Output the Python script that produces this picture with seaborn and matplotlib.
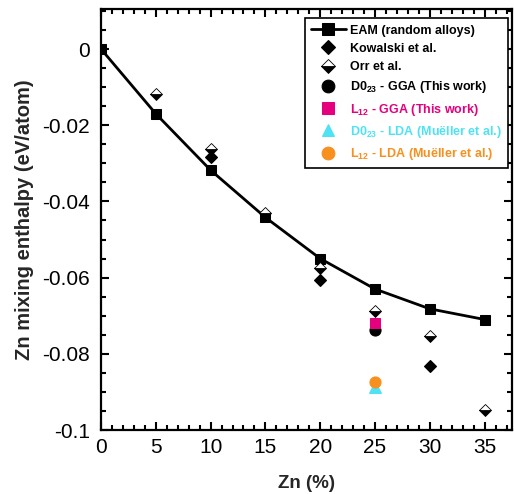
import matplotlib
matplotlib.use("Agg")
import matplotlib.pyplot as plt
import seaborn as sns
import pandas as pd
from matplotlib.ticker import MultipleLocator, FixedLocator, FixedFormatter

# ---- data ----
eam_x = [0, 5, 10, 15, 20, 25, 30, 35]
eam_y = [0.0, -0.0170, -0.0318, -0.0442, -0.0550, -0.0630, -0.0682, -0.0710]

kow_x = [10, 20, 30]
kow_y = [-0.0283, -0.0605, -0.0833]

orr_x = [5, 10, 15, 20, 25, 30, 35]
orr_y = [-0.0118, -0.0263, -0.0430, -0.0576, -0.0687, -0.0752, -0.0948]

d023_gga_x = [25]
d023_gga_y = [-0.0738]
l12_gga_x = [25]
l12_gga_y = [-0.0718]
d023_lda_x = [25]
d023_lda_y = [-0.0886]
l12_lda_x = [25]
l12_lda_y = [-0.0875]

labels = ["EAM (random alloys)", "Kowalski et al.", "Orr et al.",
          "D0$_{23}$ - GGA (This work)", "L$_{12}$ - GGA (This work)",
          "D0$_{23}$ - LDA (Mu\u00ebller et al.)", "L$_{12}$ - LDA (Mu\u00ebller et al.)"]
label_colors = ["black", "black", "black", "black", "#e5007d", "#4fe2f5", "#f7901e"]

yticks = [0, -0.02, -0.04, -0.06, -0.08, -0.1]
ytick_labels = ["0", "-0.02", "-0.04", "-0.06", "-0.08", "-0.1"]
xticks = [0, 5, 10, 15, 20, 25, 30, 35]

# ---- style ----
sns.set_style("ticks")
plt.rcParams["font.family"] = ["Liberation Sans", "DejaVu Sans"]
plt.rcParams["mathtext.fontset"] = "custom"
plt.rcParams["mathtext.rm"] = "Liberation Sans:bold"
plt.rcParams["mathtext.it"] = "Liberation Sans:bold"
plt.rcParams["mathtext.bf"] = "Liberation Sans:bold"
plt.rcParams["axes.unicode_minus"] = False

fig = plt.figure(figsize=(5.14, 4.94), dpi=100)
ax = fig.add_axes([101 / 514, 1 - 430 / 494, 411 / 514, 421 / 494])

def pts(x, y, **kw):
    df = pd.DataFrame({"x": x, "y": y})
    sns.lineplot(data=df, x="x", y="y", ax=ax, legend=False, **kw)
    return ax.lines[-1]

h_eam = pts(eam_x, eam_y, color="black", linewidth=2.0, marker="s", markersize=7.5,
            markeredgecolor="black", markerfacecolor="black", zorder=5)
h_kow = pts(kow_x, kow_y, color="black", linestyle="", marker="D", markersize=6.2,
            markeredgecolor="black", markerfacecolor="black", markeredgewidth=0.8, zorder=3)
h_d023g = pts(d023_gga_x, d023_gga_y, color="black", linestyle="", marker="o", markersize=8,
              markeredgecolor="black", markerfacecolor="black", zorder=3)
h_l12g = pts(l12_gga_x, l12_gga_y, color="#e5007d", linestyle="", marker="s", markersize=7,
             markeredgecolor="#e5007d", markerfacecolor="#e5007d", zorder=4)
h_orr = pts(orr_x, orr_y, color="black", linestyle="", marker="D", markersize=6.2,
            markeredgecolor="black", markerfacecolor="black", markeredgewidth=0.6,
            fillstyle="bottom", markerfacecoloralt="white", zorder=6)
h_d023l = pts(d023_lda_x, d023_lda_y, color="#4fe2f5", linestyle="", marker="^", markersize=8,
              markeredgecolor="#4fe2f5", markerfacecolor="#4fe2f5", zorder=3)
h_l12l = pts(l12_lda_x, l12_lda_y, color="#f7901e", linestyle="", marker="o", markersize=8,
             markeredgecolor="#f7901e", markerfacecolor="#f7901e", zorder=4)

ax.set_xlim(0, 37.5)
ax.set_ylim(-0.1, 0.0105)
ax.xaxis.set_major_locator(FixedLocator(xticks))
ax.xaxis.set_minor_locator(MultipleLocator(1))
ax.yaxis.set_major_locator(FixedLocator(yticks))
ax.yaxis.set_major_formatter(FixedFormatter(ytick_labels))
ax.yaxis.set_minor_locator(MultipleLocator(0.005))

ax.tick_params(which="both", direction="in", top=True, right=True, width=1.5,
               labelsize=15, colors="black")
ax.tick_params(which="major", length=6)
ax.tick_params(which="minor", length=3.5)
ax.tick_params(axis="x", pad=6)
ax.tick_params(axis="y", pad=8)
for s in ax.spines.values():
    s.set_linewidth(1.6)
    s.set_color("black")
    s.set_visible(True)

ax.set_xlabel("Zn (%)", fontsize=13.5, fontweight="bold", labelpad=13)
ax.set_ylabel("Zn mixing enthalpy (eV/atom)", fontsize=14.5, fontweight="bold", labelpad=6)

handles = [h_eam, h_kow, h_orr, h_d023g, h_l12g, h_d023l, h_l12l]
leg = ax.legend(handles, labels, loc="upper right", bbox_to_anchor=(0.99, 0.978),
                borderaxespad=0, prop={"weight": "bold", "size": 9}, frameon=True,
                fancybox=False, edgecolor="black", handlelength=2.8, handletextpad=0.3,
                labelspacing=0.5, borderpad=0.5, framealpha=1, markerscale=1.15)
leg.get_frame().set_linewidth(1.2)
for t, c in zip(leg.get_texts(), label_colors):
    t.set_color(c)

fig.savefig("out.png", dpi=100)
